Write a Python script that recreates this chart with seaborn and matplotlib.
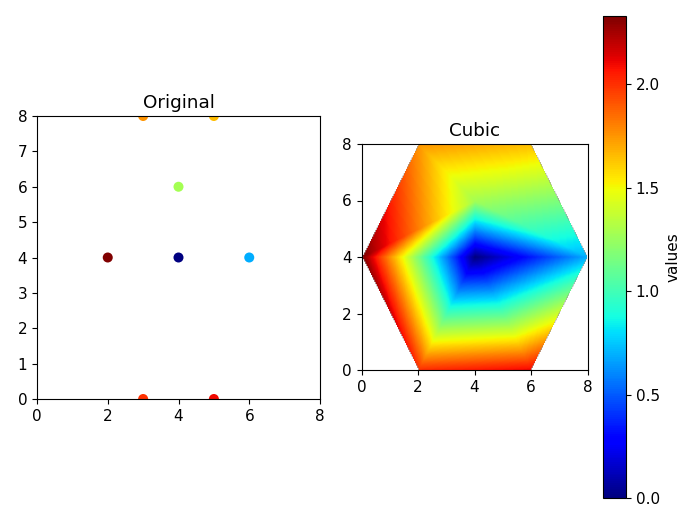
import matplotlib
matplotlib.use("Agg")
import matplotlib.pyplot as plt
import matplotlib.tri as mtri
import seaborn as sns
import numpy as np
import pandas as pd

plt.rcParams["font.size"] = 11

# original sample points
orig_x = [3, 5, 2, 4, 6, 3, 5, 4]
orig_y = [0, 0, 4, 4, 4, 8, 8, 6]
orig_v = [2.0, 2.1, 2.33, 0.0, 0.69, 1.75, 1.65, 1.28]

# points used for the interpolated panel (as placed on its axes)
grid_x = [2, 6, 0, 4, 8, 2, 6, 4]
grid_y = [0, 0, 4, 4, 4, 8, 8, 6]
grid_v = [2.0, 2.1, 2.33, 0.0, 0.69, 1.75, 1.65, 1.28]

vmin, vmax = 0.0, 2.33
cbar_ticks = [0.0, 0.5, 1.0, 1.5, 2.0]
jet = plt.get_cmap("jet")

fig = plt.figure(figsize=(6.98, 5.23), dpi=100)
ax1 = fig.add_axes([37/698, 124/523, 283/698, 283/523])
ax2 = fig.add_axes([361/698, 153/523, 227/698, 226/523])
cax = fig.add_axes([603/698, 25/523, 23/698, 482/523])

df = pd.DataFrame({"x": orig_x, "y": orig_y, "v": orig_v})
sns.scatterplot(data=df, x="x", y="y", hue="v", palette=jet,
                hue_norm=(vmin, vmax), s=52, linewidth=0, legend=False, ax=ax1)
ax1.set_xlim(0, 8)
ax1.set_ylim(0, 8)
ax1.set_xlabel("")
ax1.set_ylabel("")
ax1.set_xticks([0, 2, 4, 6, 8])
ax1.set_yticks(range(9))
ax1.set_title("Original")

# interpolate onto a grid
tri = mtri.Triangulation(grid_x, grid_y)
interp = mtri.LinearTriInterpolator(tri, np.array(grid_v))
gx, gy = np.meshgrid(np.linspace(0, 8, 200), np.linspace(0, 8, 200))
gz = interp(gx, gy)
im = ax2.imshow(gz, extent=[0, 8, 0, 8], origin="lower", cmap=jet,
                vmin=vmin, vmax=vmax)
ax2.set_xlim(0, 8)
ax2.set_ylim(0, 8)
ax2.set_xticks([0, 2, 4, 6, 8])
ax2.set_yticks([0, 2, 4, 6, 8])
ax2.set_title("Cubic")

cb = fig.colorbar(im, cax=cax)
cb.set_ticks(cbar_ticks)
cb.set_label("values")

fig.savefig("out.png", dpi=100)
